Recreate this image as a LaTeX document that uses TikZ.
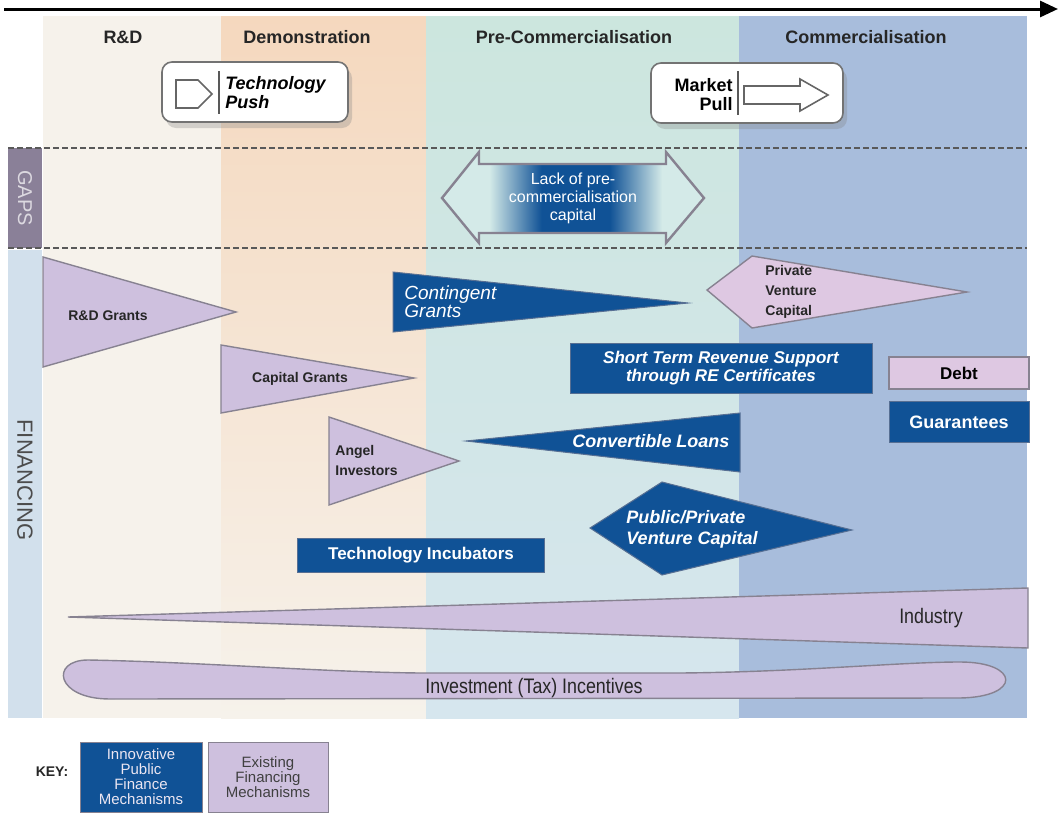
\documentclass[tikz,border=0pt]{standalone}
\usepackage{fontspec}
\setmainfont{Liberation Sans}
\newfontfamily\narrowfont[FakeStretch=0.85]{Liberation Sans}
\usetikzlibrary{positioning,shadows,arrows.meta}

\definecolor{innovblue}{RGB}{16,82,150}
\definecolor{existlilac}{RGB}{206,192,222}
\definecolor{existpink}{RGB}{222,200,226}
\definecolor{edgegray}{RGB}{135,130,145}
\definecolor{rdcream}{RGB}{246,242,235}
\definecolor{demopeach}{RGB}{245,216,190}
\definecolor{precomteal}{RGB}{204,230,222}
\definecolor{precomblue}{RGB}{214,230,238}
\definecolor{comblue}{RGB}{168,189,220}
\definecolor{gapsgray}{RGB}{138,128,152}
\definecolor{finblue}{RGB}{210,224,236}
\definecolor{gapslight}{RGB}{212,234,232}

\pgfdeclarehorizontalshading{gapshade}{100bp}{color(0bp)=(gapslight); color(25bp)=(gapslight); color(34bp)=(gapslight); color(44bp)=(innovblue); color(57bp)=(innovblue); color(67bp)=(gapslight); color(75bp)=(gapslight); color(100bp)=(gapslight)}

\tikzset{
  stagehead/.style={font=\bfseries\fontsize{9}{10}\selectfont,text=black!85},
  sidehead/.style={font=\fontsize{10}{11}\selectfont,rotate=-90},
  exist/.style={draw=edgegray,line width=0.7pt,fill=existlilac},
  innov/.style={draw=edgegray!60!innovblue,line width=0.5pt,fill=innovblue},
  existtext/.style={font=\bfseries\fontsize{7}{10}\selectfont,text=black!85,align=left,inner sep=0pt},
  innovtext/.style={font=\bfseries\itshape\fontsize{9}{10.5}\selectfont,text=white,align=left,inner sep=0pt},
  innovbox/.style={innov,align=center,inner sep=0pt,text=white},
  pushbox/.style={draw=black!55,line width=0.8pt,fill=white,rounded corners=5pt,
    minimum height=30pt,drop shadow={shadow xshift=2pt,shadow yshift=-3pt,opacity=0.3}},
  pushtext/.style={font=\bfseries\fontsize{9}{9.5}\selectfont,inner sep=0pt},
  keybox/.style={draw=edgegray,line width=0.5pt,minimum width=60pt,minimum height=35pt,
    align=center,font=\fontsize{7.5}{7.5}\selectfont,inner sep=0pt},
}

\begin{document}
\begin{tikzpicture}[x=0.5pt,y=-0.5pt]
    \useasboundingbox (0,0) rectangle (1062,814);
    %% Stage columns
    \fill[rdcream] (43,16) rectangle (221,718);
    \shade[top color=demopeach,middle color=demopeach!35!rdcream,bottom color=rdcream] (221,16) rectangle (426,718);
    \shade[top color=precomteal,bottom color=precomblue] (426,16) rectangle (739,718);
    \fill[comblue] (739,16) rectangle (1027,718);
    \node[stagehead] (rd) at (123,37) {R\&D};
    \node[stagehead] (demo) at (307,37) {Demonstration};
    \node[stagehead] (precom) at (574,37) {Pre-Commercialisation};
    \node[stagehead] (com) at (866,37) {Commercialisation};
    %% Time axis
    \coordinate (tstart) at (4,9);
    \coordinate (tend) at (1058,9);
    \draw[line width=1.5pt,-{Triangle[length=9pt,width=8pt]}] (tstart) -- (tend);
    %% Gaps and financing bands
    \fill[gapsgray] (8,148) rectangle (42,248);
    \fill[finblue] (8,250) rectangle (42,718);
    \node[sidehead,text=gapsgray!30!white] (gaps) at (25,198) {GAPS};
    \node[sidehead,font=\fontsize{11}{12}\selectfont,text=black!70] (fin) at (25,480) {FINANCING};
    \draw[black!65,line width=0.6pt,dash pattern=on 3pt off 1.5pt] (8,148) -- (1027,148);
    \draw[black!65,line width=0.6pt,dash pattern=on 3pt off 1.5pt] (8,248) -- (1027,248);
    %% Push and pull
    \node[pushbox,minimum width=93pt] (push) at (255,92) {};
    \draw[black!60,line width=0.8pt,fill=white] (176,80) -- (198,80) -- (212,94) -- (198,108) -- (176,108) -- cycle;
    \draw[black!65,line width=1pt] (219,71) -- (219,114);
    \node[pushtext,font=\bfseries\itshape\fontsize{9}{9.5}\selectfont,anchor=west,align=left] (pushtxt) at (225,93) {Technology\\Push};
    \node[pushbox,minimum width=96pt] (pull) at (747,93) {};
    \node[pushtext,anchor=east,align=right] (pulltxt) at (733,95) {Market\\Pull};
    \draw[black!65,line width=1pt] (738,71) -- (738,115);
    \draw[black!60,line width=0.8pt,fill=white] (744,86) -- (800,86) -- (800,79) -- (828,95) -- (800,111) -- (800,104) -- (744,104) -- cycle;
    %% Funding gap
    \shadedraw[draw=edgegray,line width=1.2pt,shading=gapshade] (442,198) -- (479,152) -- (479,164) -- (666,164) -- (666,152) -- (704,198) -- (666,243) -- (666,233) -- (479,233) -- (479,243) -- cycle;
    \node[font=\fontsize{8}{9}\selectfont,text=white,align=center] (gaptxt) at (573,198) {Lack of pre-\\commercialisation\\capital};
    %% Existing mechanisms
    \draw[exist] (43,257) -- (236,312) -- (43,367) -- cycle;
    \node[existtext] (rdgrants) at (108,316) {R\&D Grants};
    \draw[exist] (221,345) -- (414,378) -- (221,413) -- cycle;
    \node[existtext] (capgrants) at (300,379) {Capital Grants};
    \draw[exist] (329,417) -- (459,461) -- (329,505) -- cycle;
    \node[existtext,anchor=west] (angel) at (335,460) {Angel\\Investors};
    \draw[exist,fill=existpink] (707,290) -- (752,256) -- (967,292) -- (752,328) -- cycle;
    \node[existtext,anchor=west] (privvc) at (765,292) {Private\\Venture\\Capital};
    \node[exist,fill=existpink,minimum width=70pt,minimum height=16pt,inner sep=0pt,
      font=\bfseries\fontsize{8.5}{9}\selectfont] (debt) at (959,373) {Debt};
    \draw[exist] (68,617) -- (1028,588) -- (1028,648) -- cycle;
    \node[font=\narrowfont\fontsize{10.5}{11}\selectfont,text=black!85] (industry) at (931,618) {Industry};
    \draw[exist] (88,660) .. controls (200,662) and (320,672) .. (420,673) -- (680,673)
      .. controls (800,672) and (900,662) .. (960,662) .. controls (1020,662) and (1022,697) .. (960,698)
      -- (110,699) .. controls (55,699) and (50,660) .. (88,660) -- cycle;
    \node[font=\narrowfont\fontsize{10.5}{11}\selectfont,text=black!85] (taxinc) at (534,688) {Investment (Tax) Incentives};
    %% Innovative mechanisms
    \draw[innov] (393,272) -- (688,303) -- (393,332) -- cycle;
    \node[innovtext,font=\itshape\fontsize{9.5}{9}\selectfont,anchor=west] (contgrants) at (404,302) {Contingent\\Grants};
    \node[innovbox,minimum width=151pt,minimum height=25pt,
      font=\bfseries\itshape\fontsize{8.5}{9}\selectfont] (shortterm) at (721,368) {Short Term Revenue Support\\through RE Certificates};
    \node[innovbox,minimum width=70pt,minimum height=20.5pt,
      font=\bfseries\fontsize{9}{10}\selectfont] (guar) at (959,422) {Guarantees};
    \draw[innov] (466,441) -- (740,413) -- (740,472) -- cycle;
    \node[innovtext] (convloans) at (651,441) {Convertible Loans};
    \draw[innov] (590,528) -- (662,482) -- (852,530) -- (662,575) -- cycle;
    \node[innovtext,anchor=west] (ppvc) at (626,529) {Public/Private\\Venture Capital};
    \node[innovbox,minimum width=123.5pt,minimum height=17pt,
      font=\bfseries\fontsize{8.5}{9}\selectfont] (incub) at (421,555) {Technology Incubators};
    %% Key
    \node[font=\bfseries\fontsize{7}{8}\selectfont,text=black!85] (keylabel) at (52,772) {KEY:};
    \node[keybox,fill=innovblue,text=existlilac!40!white,minimum width=61pt] (keyinnov) at (141,777) {Innovative\\Public\\Finance\\Mechanisms};
    \node[keybox,fill=existlilac,text=black!75] (keyexist) at (268,777) {Existing\\Financing\\Mechanisms};
\end{tikzpicture}
\end{document}
